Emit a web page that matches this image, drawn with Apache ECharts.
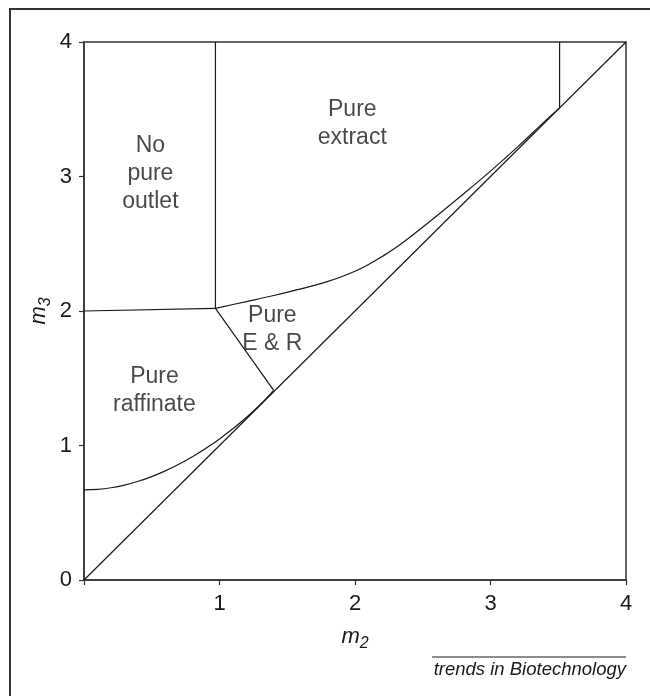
<!DOCTYPE html>
<html>
<head>
<meta charset="utf-8">
<script src="https://cdn.jsdelivr.net/npm/echarts@6/dist/echarts.min.js"></script>
<style>
  html, body { margin: 0; padding: 0; background: #fff; }
  #chart { width: 650px; height: 696px; }
</style>
</head>
<body>
<div id="chart"></div>
<script>
// region boundaries, in (m2, m3) coordinates
const diagonal = [[0, 0], [4, 4]]
const extractBoundary = [
  [0.97, 2.02], [1.2, 2.07], [1.4, 2.115], [1.6, 2.165], [1.7, 2.19], [1.8, 2.22],
  [1.9, 2.255], [2.0, 2.295], [2.1, 2.345], [2.2, 2.405], [2.3, 2.47], [2.4, 2.545],
  [2.6, 2.705], [2.8, 2.87], [3.0, 3.04], [3.2, 3.22], [3.4, 3.41], [3.51, 3.51]
]
const raffinateBoundary = [
  [0, 0.67], [0.1, 0.674], [0.2, 0.686], [0.3, 0.706], [0.4, 0.734], [0.5, 0.769],
  [0.6, 0.811], [0.7, 0.86], [0.8, 0.916], [0.9, 0.979], [1.0, 1.049], [1.1, 1.126],
  [1.2, 1.21], [1.3, 1.303], [1.4, 1.41]
]
const noOutletFloor = [[0, 2.0], [0.97, 2.02]]
const erLeftEdge = [[0.97, 2.02], [1.4, 1.41]]
const extractLeftEdge = [[0.97, 2.02], [0.97, 4]]
const extractRightEdge = [[3.51, 3.51], [3.51, 4]]

const regionNames = ['No\npure\noutlet', 'Pure\nextract', 'Pure\nE & R', 'Pure\nraffinate']
const regionX = [0.49, 1.98, 1.39, 0.52]
const regionY = [3.02, 3.39, 1.86, 1.41]

const axisTicks = [0, 1, 2, 3, 4]

const font = '"Liberation Sans", Arial, Helvetica, sans-serif'
const ink = '#1a1a1a'

const chart = echarts.init(document.getElementById('chart'))

const boundary = (data, smooth) => ({
  type: 'line',
  data,
  smooth: smooth ? 0.4 : false,
  symbol: 'none',
  silent: true,
  lineStyle: { color: ink, width: 1.2 }
})

const subscriptName = {
  m: { fontSize: 22, fontStyle: 'italic', color: ink, fontFamily: font, lineHeight: 30, verticalAlign: 'middle' },
  s: { fontSize: 16, fontStyle: 'italic', color: ink, fontFamily: font, lineHeight: 30, verticalAlign: 'bottom' }
}

chart.setOption({
  animation: false,
  backgroundColor: '#fff',
  textStyle: { fontFamily: font },
  grid: {
    left: 84, right: 24, top: 42, bottom: 116,
    show: true,
    borderColor: '#333',
    borderWidth: 1.5
  },
  xAxis: {
    type: 'value',
    min: axisTicks[0], max: axisTicks[axisTicks.length - 1], interval: 1,
    name: '{m|m}{s|2}',
    nameLocation: 'middle',
    nameGap: 42,
    nameMoveOverlap: false,
    nameTextStyle: { rich: subscriptName },
    axisLine: { show: true, lineStyle: { color: '#333', width: 1.5 } },
    axisTick: { show: true, length: 5, lineStyle: { color: '#333', width: 1.2 } },
    axisLabel: {
      fontSize: 22, color: ink, margin: 13,
      formatter: v => (v === 0 ? '' : String(v))
    },
    splitLine: { show: false }
  },
  yAxis: {
    type: 'value',
    min: axisTicks[0], max: axisTicks[axisTicks.length - 1], interval: 1,
    name: '{m|m}{s|3}',
    nameLocation: 'middle',
    nameRotate: 90,
    nameGap: 30,
    nameMoveOverlap: false,
    nameTextStyle: { rich: subscriptName },
    axisLine: { show: true, lineStyle: { color: '#333', width: 1.5 } },
    axisTick: { show: true, length: 5, lineStyle: { color: '#333', width: 1.2 } },
    axisLabel: { fontSize: 22, color: ink, margin: 12 },
    splitLine: { show: false }
  },
  series: [
    boundary(diagonal, false),
    boundary(extractBoundary, true),
    boundary(raffinateBoundary, true),
    boundary(noOutletFloor, false),
    boundary(erLeftEdge, false),
    boundary(extractLeftEdge, false),
    boundary(extractRightEdge, false),
    {
      type: 'scatter',
      symbolSize: 0,
      silent: true,
      data: regionNames.map((n, i) => ({ name: n, value: [regionX[i], regionY[i]] })),
      label: {
        show: true,
        position: 'inside',
        formatter: p => p.name,
        fontSize: 23,
        lineHeight: 28,
        color: ink,
        align: 'center',
        verticalAlign: 'middle'
      }
    }
  ],
  graphic: [
    {
      type: 'rect',
      shape: { x: 10, y: 9, width: 700, height: 760 },
      style: { fill: 'none', stroke: '#333', lineWidth: 2 },
      silent: true
    },
    {
      type: 'line',
      shape: { x1: 432, y1: 657, x2: 626, y2: 657 },
      style: { stroke: '#666', lineWidth: 1.5 },
      silent: true
    },
    {
      type: 'text',
      right: 24,
      top: 660,
      style: {
        text: 'trends in Biotechnology',
        font: 'italic 18.5px ' + font,
        fill: ink
      },
      silent: true
    }
  ]
})
</script>
